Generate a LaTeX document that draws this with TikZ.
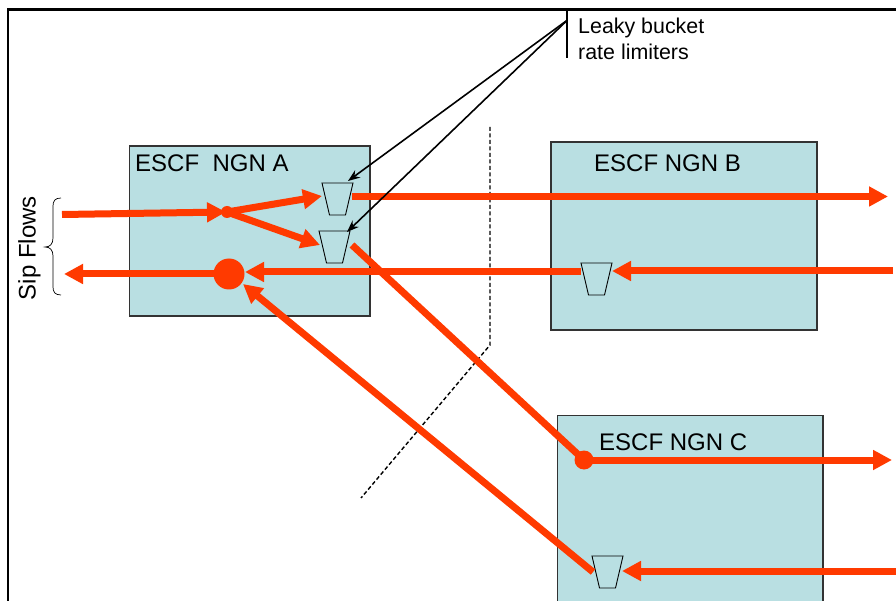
\documentclass[tikz,border=0pt]{standalone}
\usepackage{fontspec}
\setmainfont{Liberation Sans}
\usetikzlibrary{arrows.meta}
\definecolor{boxfill}{HTML}{B9DFE2}
\definecolor{flow}{HTML}{FF3A00}
\tikzset{
  panel/.style={draw=black!80,line width=1.2pt,fill=boxfill},
  bucket/.style={draw=black,line width=0.9pt},
  flowline/.style={draw=flow,line width=7pt},
  flowarrow/.style={flowline,-{Triangle[length=19pt,width=19pt]}},
  callout/.style={draw=black,line width=1.6pt,-{Stealth[length=12pt,width=9pt]}},
  lab/.style={font=\fontsize{24pt}{26pt}\selectfont,anchor=base west,inner sep=0pt,text=black},
  small/.style={font=\fontsize{21.4pt}{24pt}\selectfont,anchor=base west,inner sep=0pt,text=black},
  dot/.style={circle,fill=flow,inner sep=0pt,minimum size=#1}
}
\newcommand{\bucketat}[3]{%
  \draw[bucket] (#2,#3) -- ++(31,0) -- ++(-7.5,32) -- ++(-16,0) -- cycle;
  \coordinate (#1in) at (#2+31,#3+14);
  \coordinate (#1out) at (#2,#3+14);}
\begin{document}
\begin{tikzpicture}[x=1pt,y=-1pt]
\useasboundingbox (0,0) rectangle (896,601);
\clip (0,0) rectangle (896,601);
\fill[white] (0,0) rectangle (896,601);
\draw[black,line width=2.2pt] (8,601) -- (8,9.5) -- (896,9.5);
% boxes
\path[panel] (129.5,146) rectangle (370,316);
\path[panel] (551,142) rectangle (817,330);
\path[panel] (557.5,415.5) rectangle (823,610);
% labels
\node[lab] (la) at (135,172) {ESCF\ \ NGN A};
\node[lab] (lb) at (594,172) {ESCF NGN B};
\node[lab] (lc) at (599,450) {ESCF NGN C};
\node[small] (t1) at (578,34) {Leaky bucket};
\node[small] (t2) at (578,60) {rate limiters};
\node[lab,rotate=90,anchor=center] (sip) at (29.5,248) {Sip Flows};
% brace
\draw[black,line width=0.7pt] (61,198) .. controls (55,198) and (53,201) .. (53,206) -- (53,238) .. controls (53,244) and (50,247) .. (45,247) .. controls (50,247) and (53,250) .. (53,256) -- (53,287) .. controls (53,292) and (55,295) .. (61,295);
% dashed boundary
\coordinate (d1) at (490,127);
\coordinate (d2) at (490,345);
\coordinate (d3) at (361,498);
\draw[black,line width=1.4pt,dash pattern=on 4pt off 2.5pt] (d1) -- (d2) -- (d3);
% buckets
\bucketat{ba}{322}{183}
\bucketat{bb}{319}{231}
\bucketat{bc}{581}{263}
\bucketat{bd}{592}{556}
% junctions
\node[dot=12pt] (ja) at (227,212) {};
\node[dot=31pt] (jb) at (229,274) {};
\node[dot=19pt] (jc) at (584,460) {};
% free ends
\coordinate (in1) at (62,214.5);
\coordinate (jatip) at (226,212);
\coordinate (batip) at (322,196);
\coordinate (bbtip) at (320,245);
\coordinate (bastart) at (352,196.5);
\coordinate (outb) at (888,196.5);
\coordinate (inb) at (893,271);
\coordinate (bctip) at (612,271);
\coordinate (bcstart) at (581,272);
\coordinate (jbtip1) at (245,272);
\coordinate (jbtip2) at (243,284);
\coordinate (out1) at (64,274);
\coordinate (bbstart) at (352,245);
\coordinate (outc) at (892,460);
\coordinate (inc) at (896,571);
\coordinate (bdtip) at (622,571);
\coordinate (bdstart) at (593,572);
% flows
\draw[flowarrow] (in1) -- (jatip);
\draw[flowarrow] (ja.center) -- (batip);
\draw[flowarrow] (ja.center) -- (bbtip);
\draw[flowarrow] (bastart) -- (outb);
\draw[flowarrow] (inb) -- (bctip);
\draw[flowarrow] (bcstart) -- (jbtip1);
\draw[flowarrow] (jb.center) -- (out1);
\draw[flowline] (bbstart) -- (jc.center);
\draw[flowarrow] (jc.center) -- (outc);
\draw[flowarrow] (inc) -- (bdtip);
\draw[flowarrow] (bdstart) -- (jbtip2);
% callouts
\coordinate (v1) at (567,9);
\coordinate (v2) at (567,58);
\coordinate (c0) at (567.5,20);
\coordinate (c1) at (348,181);
\coordinate (c2) at (347,232);
\draw[black,line width=1.4pt] (v1) -- (v2);
\draw[callout] (c0) -- (c1);
\draw[callout] (c0) -- (c2);
\end{tikzpicture}
\end{document}
